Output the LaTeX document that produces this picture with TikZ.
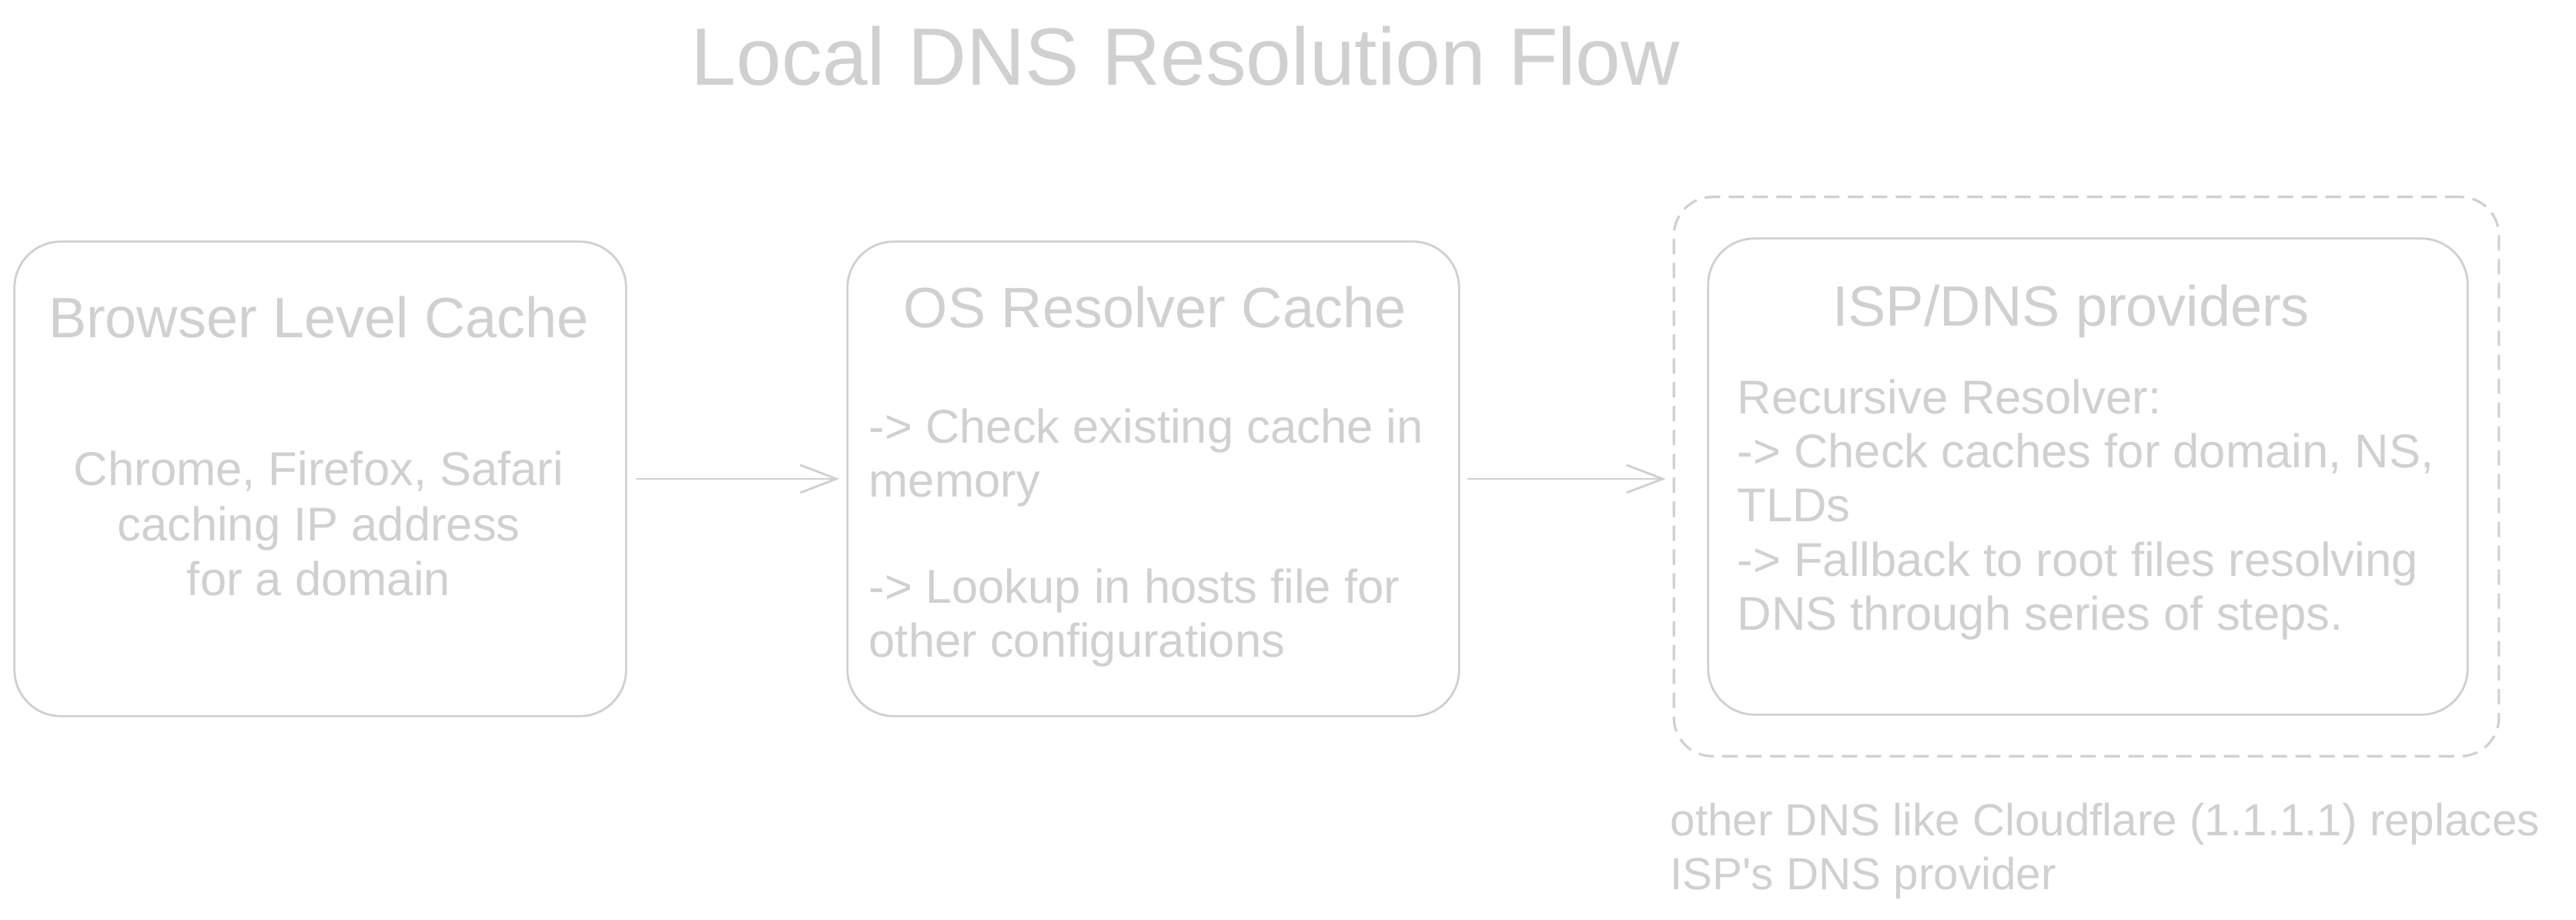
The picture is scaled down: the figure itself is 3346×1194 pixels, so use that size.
\documentclass[tikz,border=0pt]{standalone}
\usepackage{fontspec}
\setmainfont{Liberation Sans}
\usetikzlibrary{arrows.meta}
\definecolor{lg}{RGB}{208,208,208}
\tikzset{
  box/.style={draw=lg, line width=0.8pt, rounded corners=0.6cm, inner sep=0pt},
  grp/.style={draw=lg, line width=0.9pt, rounded corners=0.5cm, dash pattern=on 0.2cm off 0.11cm, inner sep=0pt},
  maintitle/.style={text=lg, font=\fontsize{30}{36}\selectfont, anchor=base, inner sep=0pt},
  ttl/.style={text=lg, font=\fontsize{21}{25}\selectfont, anchor=base, inner sep=0pt},
  body/.style={text=lg, font=\fontsize{17.5}{20}\selectfont, anchor=base west, inner sep=0pt},
  bodyc/.style={body, anchor=base},
  note/.style={body, font=\fontsize{16.6}{20}\selectfont},
  arr/.style={draw=lg, line width=0.8pt, -{Straight Barb[length=0.47cm,width=0.36cm]}},
}
\begin{document}
\begin{tikzpicture}[x=0.01cm, y=-0.01cm]
\path[use as bounding box, fill=white] (0,0) rectangle (3346,1194);

% title
\node[maintitle] (title) at (1540,111) {Local DNS Resolution Flow};

% boxes
\node[box, minimum width=7.94cm, minimum height=6.16cm] (b1) at (416,622) {};
\node[box, minimum width=7.94cm, minimum height=6.16cm] (b2) at (1498,622) {};
\node[grp, minimum width=10.71cm, minimum height=7.26cm] (grp) at (2710,619) {};
\node[box, minimum width=9.86cm, minimum height=6.18cm] (b3) at (2712,619) {};

% box 1 text
\node[ttl] (t1) at (414,438) {Browser Level Cache};
\node[bodyc] (b1l1) at (414,630) {Chrome, Firefox, Safari};
\node[bodyc] (b1l2) at (414,702) {caching IP address};
\node[bodyc] (b1l3) at (414,773) {for a domain};

% box 2 text
\node[ttl] (t2) at (1500,425) {OS Resolver Cache};
\node[body] (b2l1) at (1128,575) {-> Check existing cache in};
\node[body] (b2l2) at (1128,645) {memory};
\node[body] (b2l3) at (1128,783) {-> Lookup in hosts file for};
\node[body] (b2l4) at (1128,853) {other configurations};

% box 3 text
\node[ttl] (t3) at (2690,423) {ISP/DNS providers};
\node[body] (b3l1) at (2256,537) {Recursive Resolver:};
\node[body] (b3l2) at (2256,607) {-> Check caches for domain, NS,};
\node[body] (b3l3) at (2256,677) {TLDs};
\node[body] (b3l4) at (2256,748) {-> Fallback to root files resolving};
\node[body] (b3l5) at (2256,818) {DNS through series of steps.};

% note below
\node[note] (n1) at (2169,1085) {other DNS like Cloudflare (1.1.1.1) replaces};
\node[note] (n2) at (2169,1155) {ISP\textquotesingle s DNS provider};

% arrows
\draw[arr, shorten <=0.11cm, shorten >=0.09cm] (b1.east) -- (b2.west);
\draw[arr, shorten <=0.09cm, shorten >=0.09cm] (b2.east) -- (b2.east -| grp.west);
\end{tikzpicture}
\end{document}
